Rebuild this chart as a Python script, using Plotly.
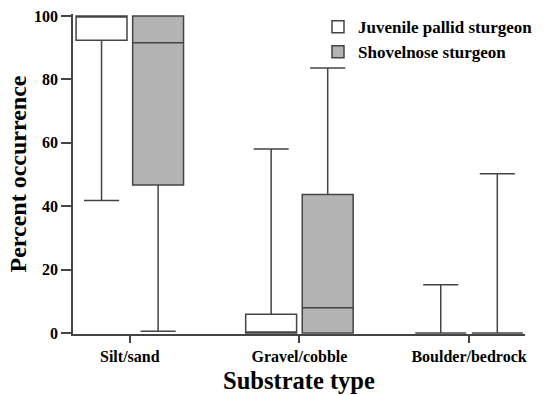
import plotly.graph_objects as go

categories = ["Silt/sand", "Gravel/cobble", "Boulder/bedrock"]

# Juvenile pallid sturgeon
juv_lo = [41.8, 0.0, 0.0]
juv_q1 = [92.3, 0.0, 0.0]
juv_med = [100.0, 0.0, 0.0]
juv_q3 = [100.0, 5.9, 0.0]
juv_hi = [100.0, 58.0, 15.2]

# Shovelnose sturgeon
sho_lo = [0.6, 0.0, 0.0]
sho_q1 = [46.7, 0.0, 0.0]
sho_med = [91.5, 8.0, 0.0]
sho_q3 = [100.0, 43.7, 0.0]
sho_hi = [100.0, 83.6, 50.2]

y_ticks = [0, 20, 40, 60, 80, 100]

LINE = "#444444"
FONT = "Liberation Serif"

fig = go.Figure()
fig.add_trace(go.Box(
    name="<b>Juvenile pallid sturgeon</b>", x=categories,
    q1=juv_q1, median=juv_med, q3=juv_q3, lowerfence=juv_lo, upperfence=juv_hi,
    fillcolor="white", line=dict(color=LINE, width=1.5), whiskerwidth=0.69,
    boxpoints=False,
))
fig.add_trace(go.Box(
    name="<b>Shovelnose sturgeon</b>", x=categories,
    q1=sho_q1, median=sho_med, q3=sho_q3, lowerfence=sho_lo, upperfence=sho_hi,
    fillcolor="#b3b3b3", line=dict(color=LINE, width=1.5), whiskerwidth=0.69,
    boxpoints=False,
))

fig.update_layout(
    width=551, height=395,
    margin=dict(l=73, r=26, t=14, b=61, autoexpand=False),
    paper_bgcolor="white", plot_bgcolor="white",
    boxmode="group", boxgap=0.333, boxgroupgap=0.1,
    font=dict(family=FONT, color="black"),
    showlegend=True,
    legend=dict(x=0.542, xanchor="left", y=1.015, yanchor="top",
                font=dict(family=FONT, size=17, color="black"),
                bgcolor="rgba(0,0,0,0)", itemwidth=30, tracegroupgap=0),
    xaxis=dict(
        type="category", range=[-0.335, 2.33],
        showline=True, linecolor=LINE, linewidth=1.5,
        ticks="outside", ticklen=7, tickcolor=LINE, tickwidth=1.5,
        showgrid=False, zeroline=False, automargin=False,
        tickfont=dict(family=FONT, size=16, color="black"),
        tickvals=categories, ticktext=["<b>%s</b>" % c for c in categories],
        title=dict(text="<b>Substrate type</b>", font=dict(family=FONT, size=24.5, color="black"), standoff=8),
    ),
    yaxis=dict(
        range=[-0.3, 100.6],
        showline=True, linecolor=LINE, linewidth=1.5,
        ticks="outside", ticklen=10, tickcolor=LINE, tickwidth=1.5,
        showgrid=False, zeroline=False, automargin=False,
        tickvals=y_ticks, ticktext=["<b>%d</b>" % v for v in y_ticks],
        tickfont=dict(family=FONT, size=16, color="black"),
        title=dict(text="<b>Percent occurrence</b>", font=dict(family=FONT, size=24, color="black"), standoff=1),
    ),
)

fig.write_html(
    "out.html",
    config={"displayModeBar": False},
    post_script="document.body.style.margin='0';document.body.style.overflow='hidden';",
)
